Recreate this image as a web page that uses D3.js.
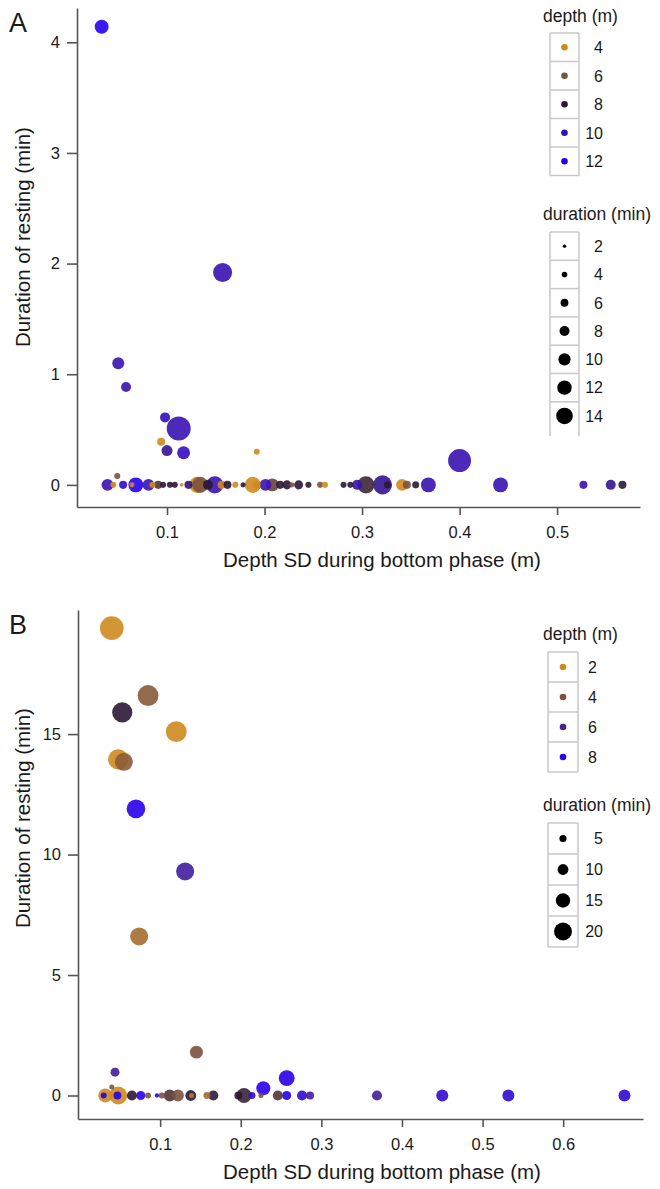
<!DOCTYPE html>
<html>
<head>
<meta charset="utf-8">
<script src="https://cdn.jsdelivr.net/npm/d3@7"></script>
<style>
	body { margin: 0; background: white; }
	text { font-family: "Liberation Sans", Arial, sans-serif; fill: #1a1a1a; }
</style>
</head>
<body>
<script>
// Panel A data: depth SD (m), resting (min), depth (m), duration (min)
var aX = [0.033, 0.157, 0.050, 0.058, 0.098, 0.112, 0.094, 0.100, 0.117, 0.192, 0.049, 0.400,
	0.039, 0.045, 0.055, 0.064, 0.068, 0.081, 0.085, 0.091, 0.096, 0.103, 0.108, 0.115, 0.122,
	0.131, 0.134, 0.142, 0.149, 0.156, 0.162, 0.170, 0.178, 0.188, 0.192, 0.201, 0.208, 0.216,
	0.223, 0.228, 0.235, 0.245, 0.257, 0.262, 0.281, 0.288, 0.295, 0.304, 0.321, 0.326, 0.341,
	0.346, 0.355, 0.368, 0.442, 0.527, 0.555, 0.567]
var aY = [4.14, 1.92, 1.10, 0.885, 0.61, 0.51, 0.39, 0.31, 0.29, 0.30, 0.08, 0.22,
	0, 0, 0, 0, 0, 0, 0, 0, 0, 0, 0, 0, 0,
	0, 0, 0, 0, 0, 0, 0, 0, 0, 0, 0, 0, 0,
	0, 0, 0, 0, 0, 0, 0, 0, 0, 0, 0, 0, 0,
	0, 0, 0, 0, 0, 0, 0]
var aDepth = [12, 10, 10, 10, 10.5, 10, 4, 9.5, 10.5, 4, 6, 10,
	10, 4, 11, 4, 12, 10, 4, 7, 8, 8, 8, 4, 9,
	4, 6, 8, 10, 4, 8, 4, 8, 4, 4, 10, 6.5, 8,
	8, 6, 8, 8, 6, 4, 8, 8, 10, 7.5, 9.5, 8, 4,
	6, 8, 10, 10, 10, 9.5, 8]
var aDur = [11.6, 16.2, 9.8, 8, 8, 20.7, 6.2, 8.9, 10.7, 4.4, 4.4, 19.8,
	9.8, 4.4, 6.2, 3.5, 12.5, 9.8, 4.4, 6.2, 4.4, 4.4, 4.4, 2.5, 6.2,
	13.5, 13.5, 8, 14.4, 6.2, 6.2, 4.4, 3.5, 13.5, 6.2, 9.8, 10.7, 6.2,
	7.1, 3.5, 7.1, 4.4, 4.4, 4.4, 4.4, 4.4, 8, 14.4, 16.2, 5.3, 9.8,
	6.2, 5.3, 12.5, 12.5, 6.2, 8, 6.2]

// Panel B data
var bX = [0.040, 0.085, 0.053, 0.120, 0.048, 0.055, 0.070, 0.131, 0.074,
	0.044, 0.040, 0.145, 0.228, 0.257,
	0.032, 0.030, 0.048, 0.047, 0.065, 0.076, 0.085, 0.096, 0.102, 0.112, 0.122,
	0.138, 0.139, 0.158, 0.166, 0.197, 0.204, 0.214, 0.225, 0.246, 0.257, 0.276,
	0.286, 0.369, 0.450, 0.532, 0.676]
var bY = [19.4, 16.6, 15.9, 15.1, 13.95, 13.85, 11.9, 9.3, 6.6,
	0.97, 0.35, 1.8, 0.3, 0.72,
	0, 0, 0, 0, 0, 0, 0, 0, 0, 0, 0,
	0, 0, 0, 0, 0, 0, 0, 0, 0, 0, 0,
	0, 0, 0, 0, 0]
var bDepth = [2, 3.7, 5, 2, 2, 3.6, 8, 6.5, 3,
	6.5, 4, 4, 8, 8,
	2, 8, 2, 8, 5, 8, 4, 8, 4, 4.5, 4,
	5, 2.5, 3, 5.2, 5, 4.8, 7.5, 4, 4.5, 8, 7.5,
	6.5, 6.5, 7.5, 7.5, 7.5]
var bDur = [28, 24, 23, 24, 23, 20, 21, 20, 20,
	7.5, 2, 13, 14.5, 17,
	14.5, 3.3, 20, 6, 9, 7.5, 3.3, 1, 3.3, 11.7, 11.7,
	10, 2, 4.7, 9, 6, 16, 4.7, 2, 9, 7.5, 9,
	6, 9, 11.7, 11.7, 11.7]

var aXTicks = [0.1, 0.2, 0.3, 0.4, 0.5]
var aYTicks = [0, 1, 2, 3, 4]
var bXTicks = [0.1, 0.2, 0.3, 0.4, 0.5, 0.6]
var bYTicks = [0, 5, 10, 15]

var aDepthLegend = [4, 6, 8, 10, 12]
var aDurLegend = [2, 4, 6, 8, 10, 12, 14]
var bDepthLegend = [2, 4, 6, 8]
var bDurLegend = [5, 10, 15, 20]

// colour ramps, orange -> brown -> nearly black -> purple -> blue
var aColorStops = [4, 6, 8, 10, 12]
var bColorStops = [2, 4, 5, 6, 8]
var rampColors = ["#cf8a1e", "#7a523e", "#2a1834", "#3812b0", "#2800f0"]
var bRampColors = ["#cf8a1e", "#7a523e", "#2a1834", "#462686", "#2a00ea"]

var svg = d3.select("body").append("svg").attr("width", 660).attr("height", 1189)

drawPanel(svg, {
	label: "A", left: 77, right: 640, top: 8, bottom: 507,
	xDomain: [0.0077, 0.585], yDomain: [-0.2, 4.31],
	xs: aX, ys: aY, depths: aDepth, durs: aDur,
	xTicks: aXTicks, yTicks: aYTicks,
	colorStops: aColorStops, colors: rampColors,
	sizeRange: [0.6, 8.3], sizeMax: 14,
	yTitleCenter: 237
})

drawPanel(svg, {
	label: "B", left: 78, right: 643, top: 610, bottom: 1119,
	xDomain: [-0.0019, 0.699], yDomain: [-0.975, 20.15],
	xs: bX, ys: bY, depths: bDepth, durs: bDur,
	xTicks: bXTicks, yTicks: bYTicks,
	colorStops: bColorStops, colors: bRampColors,
	sizeRange: [1.8, 9], sizeMax: 20,
	yTitleCenter: 818
})

function drawPanel(svg, p) {
	var g = svg.append("g")
	var x = d3.scaleLinear().domain(p.xDomain).range([p.left, p.right])
	var y = d3.scaleLinear().domain(p.yDomain).range([p.bottom, p.top])
	var color = d3.scaleLinear().domain(p.colorStops).range(p.colors).interpolate(d3.interpolateRgb)
	var size = d3.scaleLinear().domain([0, p.sizeMax]).range(p.sizeRange)

	// points, big ones first so small ones sit on top
	var pts = []
	for (var i = 0; i < p.xs.length; i++) {
		pts.push({x: p.xs[i], y: p.ys[i], depth: p.depths[i], dur: p.durs[i]})
	}
	pts.sort(function(a, b) { return b.dur - a.dur })
	g.append("g").selectAll("circle").data(pts).enter().append("circle")
		.attr("cx", function(d) { return x(d.x) })
		.attr("cy", function(d) { return y(d.y) })
		.attr("r", function(d) { return size(d.dur) })
		.attr("fill", function(d) { return color(d.depth) })
		.attr("fill-opacity", 0.9)

	// axes, L shaped box like base R
	var xAxis = g.append("g").attr("transform", "translate(0," + p.bottom + ")")
		.call(d3.axisBottom(x).tickValues(p.xTicks).tickSizeInner(8).tickSizeOuter(0).tickPadding(11).tickFormat(function(d) { return d }))
	var yAxis = g.append("g").attr("transform", "translate(" + p.left + ",0)")
		.call(d3.axisLeft(y).tickValues(p.yTicks).tickSizeInner(10).tickSizeOuter(0).tickPadding(7).tickFormat(function(d) { return d }))
	styleAxis(xAxis)
	styleAxis(yAxis)

	addText(g, "Depth SD during bottom phase (m)", 382, p.bottom + 60, 20.5, "middle")
	g.append("text").text("Duration of resting (min)")
		.attr("transform", "translate(30," + p.yTitleCenter + ") rotate(-90)")
		.attr("text-anchor", "middle").attr("font-size", 20.5)
	addText(g, p.label, 9, p.top + 24, 27, "start")

	if (p.label == "A") {
		addLegend(g, "depth (m)", aDepthLegend, 22, 33, 28.5, 550, 29, 603,
			function(d) { return 3.3 }, function(d) { return color(d) }, false)
		addLegend(g, "duration (min)", aDurLegend, 220, 232, 28.3, 550, 29, 603,
			function(d) { return size(d) }, function(d) { return "#000" }, true)
	} else {
		addLegend(g, "depth (m)", bDepthLegend, 640, 652, 30, 548, 30, 597,
			function(d) { return 3.3 }, function(d) { return color(d) }, false)
		addLegend(g, "duration (min)", bDurLegend, 811, 823, 31, 548, 30, 603,
			function(d) { return size(d) }, function(d) { return "#000" }, false)
	}
}

function styleAxis(axis) {
	axis.select(".domain").attr("stroke", "#555").attr("stroke-width", 1.6)
	axis.selectAll(".tick line").attr("stroke", "#555").attr("stroke-width", 1.6)
	axis.selectAll(".tick text").attr("font-size", 16.5).attr("fill", "#1a1a1a")
		.attr("font-family", "Liberation Sans, Arial, sans-serif")
}

function addLegend(node, title, values, titleY, top, rowH, boxX, boxW, labelX, rFn, colorFn, openBottom) {
	var leg = node.append("g")
	addText(leg, title, 543, titleY, 17.5, "start")
	var bottom = top + rowH * values.length
	if (openBottom) bottom = bottom + 6
	leg.append("path")
		.attr("d", "M" + boxX + "," + top + "V" + bottom + "M" + (boxX + boxW) + "," + top + "V" + bottom)
		.attr("stroke", "#c8c8c8").attr("stroke-width", 1.5).attr("fill", "none")
	for (var i = 0; i < values.length; i++) {
		var yy = top + i * rowH
		leg.append("line").attr("x1", boxX).attr("x2", boxX + boxW).attr("y1", yy).attr("y2", yy)
			.attr("stroke", "#c8c8c8").attr("stroke-width", 1.5)
		leg.append("circle").attr("cx", boxX + boxW / 2).attr("cy", yy + rowH / 2)
			.attr("r", rFn(values[i])).attr("fill", colorFn(values[i]))
		leg.append("text").text(values[i]).attr("x", labelX).attr("y", yy + rowH / 2)
			.attr("dy", "0.36em").attr("text-anchor", "end").attr("font-size", 16)
	}
	if (!openBottom) {
		leg.append("line").attr("x1", boxX).attr("x2", boxX + boxW).attr("y1", bottom).attr("y2", bottom)
			.attr("stroke", "#c8c8c8").attr("stroke-width", 1.5)
	}
}

function addText(node, text, x, y, fontSize, anchor) {
	node.append("text").text(text)
		.attr("x", x).attr("y", y)
		.attr("font-size", fontSize)
		.attr("text-anchor", anchor)
}
</script>
</body>
</html>
